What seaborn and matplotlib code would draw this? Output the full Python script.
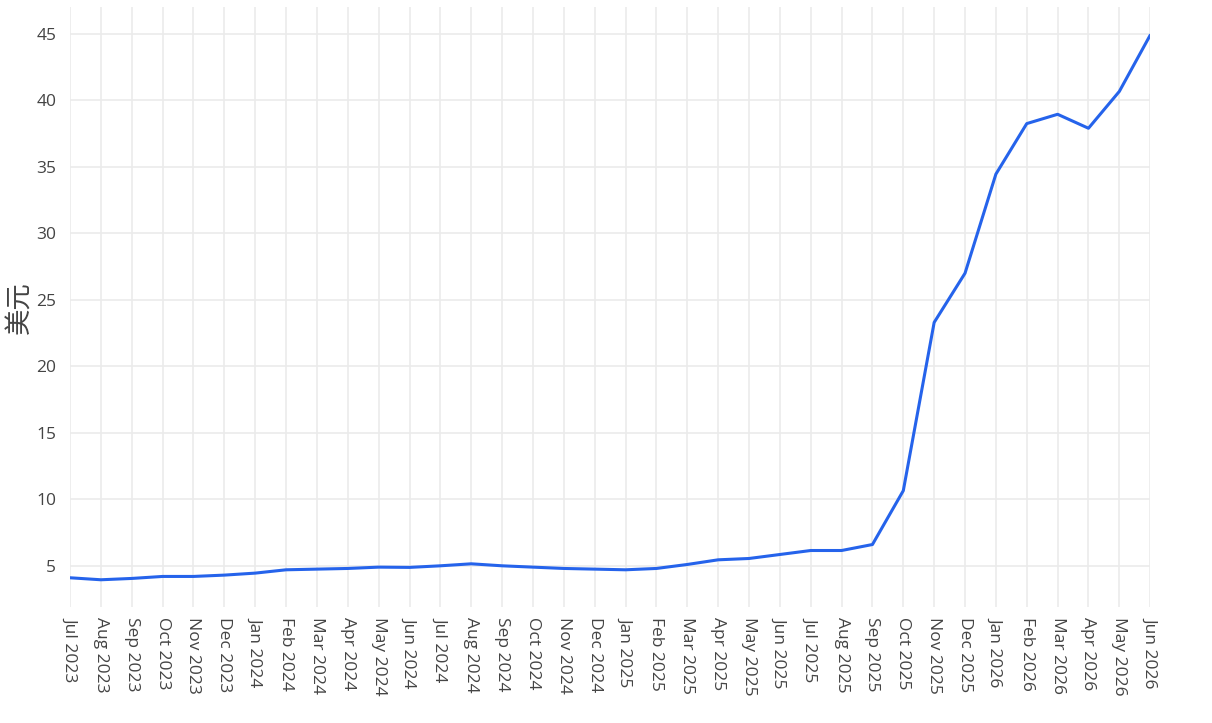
import matplotlib
matplotlib.use('Agg')
import matplotlib.pyplot as plt
import seaborn as sns
import pandas as pd

# monthly values, Jul 2023 .. Jun 2026
months = ['Jul 2023', 'Aug 2023', 'Sep 2023', 'Oct 2023', 'Nov 2023', 'Dec 2023',
          'Jan 2024', 'Feb 2024', 'Mar 2024', 'Apr 2024', 'May 2024', 'Jun 2024',
          'Jul 2024', 'Aug 2024', 'Sep 2024', 'Oct 2024', 'Nov 2024', 'Dec 2024',
          'Jan 2025', 'Feb 2025', 'Mar 2025', 'Apr 2025', 'May 2025', 'Jun 2025',
          'Jul 2025', 'Aug 2025', 'Sep 2025', 'Oct 2025', 'Nov 2025', 'Dec 2025',
          'Jan 2026', 'Feb 2026', 'Mar 2026', 'Apr 2026', 'May 2026', 'Jun 2026']
price = [4.1, 3.95, 4.05, 4.2, 4.2, 4.3,
         4.45, 4.7, 4.75, 4.8, 4.9, 4.88,
         5.0, 5.15, 5.0, 4.9, 4.8, 4.75,
         4.7, 4.8, 5.1, 5.45, 5.55, 5.85,
         6.15, 6.15, 6.6, 10.65, 23.3, 27.0,
         34.45, 38.25, 38.95, 37.9, 40.67, 44.9]
yticks = [5, 10, 15, 20, 25, 30, 35, 40, 45]

df = pd.DataFrame({'pos': range(len(months)), 'price': price})

sns.set_style('white')
plt.rcParams['font.family'] = ['Open Sans', 'Noto Sans CJK SC', 'DejaVu Sans']

fig = plt.figure(figsize=(12.12, 7.23), dpi=100)
ax = fig.add_axes([0.0578, 0.1604, 0.8912, 0.8296])

sns.lineplot(data=df, x='pos', y='price', color='#2563eb', linewidth=2.2, ax=ax)

ax.set_xlim(0, len(months) - 1)
ax.set_ylim(1.9, 47)
ax.set_xticks(range(len(months)))
ax.set_xticklabels(months, rotation=-90, ha='center', va='top')
ax.set_yticks(yticks)
ax.tick_params(axis='both', length=0, labelsize=12.5, labelcolor='#444444')
ax.tick_params(axis='x', pad=7)
ax.tick_params(axis='y', pad=10)
ax.grid(True, color='#ebebeb', linewidth=1.2)
ax.set_axisbelow(True)
for s in ax.spines.values():
    s.set_visible(False)

ax.set_xlabel('')
ax.set_ylabel('美元', fontsize=19, color='#444444',
              family=['Noto Sans CJK SC', 'DejaVu Sans'])
ax.yaxis.set_label_coords(-0.034, 0.5)

fig.savefig('out.png', dpi=100)
